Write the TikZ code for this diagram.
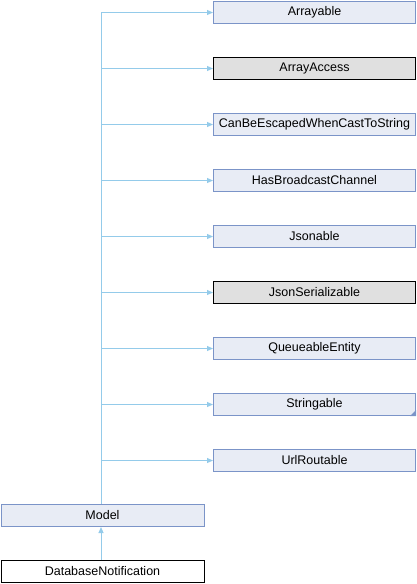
\documentclass[tikz,border=0pt]{standalone}
\usepackage{fontspec}
\setmainfont{Liberation Sans}
\usetikzlibrary{arrows.meta}
\definecolor{boxfill}{HTML}{E8ECF5}
\definecolor{boxline}{HTML}{7B94C8}
\definecolor{extfill}{HTML}{E0E0E0}
\definecolor{edgecol}{HTML}{94CBEA}
\begin{document}
\begin{tikzpicture}[x=1pt,y=-1pt,
  cls/.style={draw=boxline, fill=boxfill, line width=1pt, minimum width=202pt, minimum height=22pt, inner sep=0pt, font=\fontsize{12.5}{14}\selectfont, anchor=north west},
  ext/.style={cls, draw=black, fill=extfill},
  leaf/.style={cls, draw=black, fill=white},
  edge/.style={draw=edgecol, line width=1pt, -{Triangle[length=6pt,width=5pt]}}]
\useasboundingbox (0,0) rectangle (416,584);
\node[cls] (arrayable) at (213,1) {Arrayable};
\node[ext] (arrayaccess) at (213,57) {ArrayAccess};
\node[cls] (canbe) at (213,113) {CanBeEscapedWhenCastToString};
\node[cls] (hasbc) at (213,169) {HasBroadcastChannel};
\node[cls] (jsonable) at (213,225) {Jsonable};
\node[ext] (jsonser) at (213,281) {JsonSerializable};
\node[cls] (queue) at (213,337) {QueueableEntity};
\node[cls] (stringable) at (213,393) {Stringable};
\node[cls] (url) at (213,449) {UrlRoutable};
\node[cls, minimum width=203pt] (model) at (0.5,504) {Model};
\node[leaf, minimum width=203pt] (dbn) at (0.5,560) {DatabaseNotification};
\fill[boxline] (stringable.south east) -- ++(0,-6) -- ++(-6,6) -- cycle;
\coordinate (top) at (101,12);
\draw[edgecol, line width=1pt] (model.north -| top) -- (top);
\foreach \n in {arrayable,arrayaccess,canbe,hasbc,jsonable,jsonser,queue,stringable,url}{
  \draw[edge] (top |- \n.west) -- (\n.west);
}
\draw[edge] (dbn.north -| top) -- (model.south -| top);
\end{tikzpicture}
\end{document}
